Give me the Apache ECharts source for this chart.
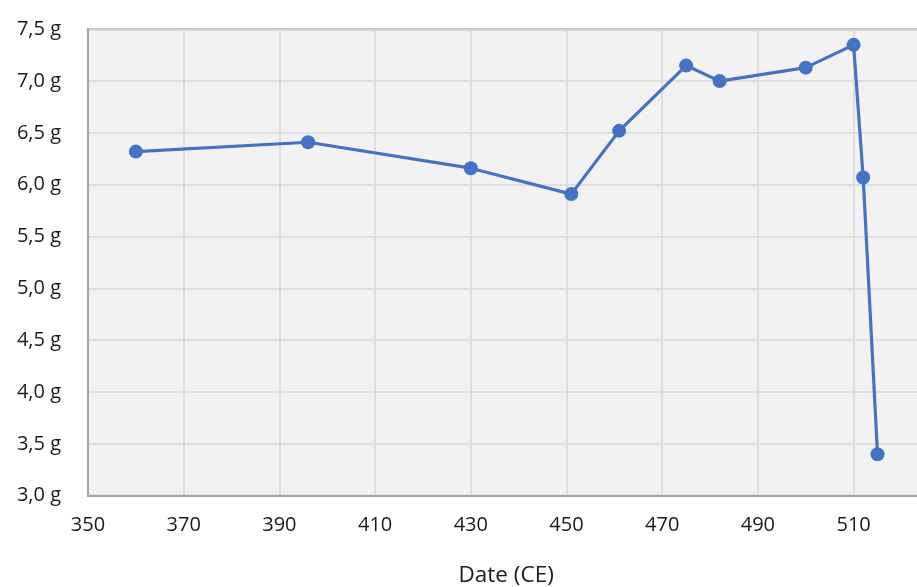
<!DOCTYPE html>
<html><head><meta charset="utf-8">
<script src="https://cdn.jsdelivr.net/npm/echarts@6/dist/echarts.min.js"></script>
<style>html,body{margin:0;padding:0;background:#fff}#c{width:917px;height:587px}</style>
</head><body><div id="c"></div>
<script>
var dates = [360, 396, 430, 451, 461, 475, 482, 500, 510, 512, 515];
var weights = [6.32, 6.41, 6.16, 5.91, 6.52, 7.15, 7.00, 7.13, 7.35, 6.07, 3.40];
var xAxisName = 'Date (CE)';

var chart = echarts.init(document.getElementById('c'));
var font = '"Open Sans", "Noto Sans", sans-serif';
chart.setOption({
  animation: false,
  grid: {left: 88, top: 29.3, width: 861.3, height: 466.4, show: true,
         outerBoundsMode: 'none', containLabel: false,
         backgroundColor: '#f2f2f2', borderColor: '#b3b3b3', borderWidth: 2},
  xAxis: {
    type: 'value', min: 350, max: 530, interval: 20,
    name: xAxisName, nameLocation: 'middle', nameGap: 68,
    nameTextStyle: {fontFamily: font, fontSize: 22.5, color: '#1a1a1a', padding: [0, 25, 0, 0]},
    axisLine: {show: true, lineStyle: {color: '#a6a6a6', width: 2}},
    axisTick: {show: false},
    axisLabel: {fontFamily: font, fontSize: 20, color: '#1a1a1a', margin: 20, showMaxLabel: false},
    splitLine: {show: true, lineStyle: {color: '#d9d9d9', width: 1.5}}
  },
  yAxis: {
    type: 'value', min: 3.0, max: 7.5, interval: 0.5,
    axisLine: {show: true, lineStyle: {color: '#a6a6a6', width: 2}},
    axisTick: {show: false},
    axisLabel: {fontFamily: font, fontSize: 20, color: '#1a1a1a', margin: 27,
      formatter: function (v) { return v.toFixed(1).replace('.', ',') + ' g'; }},
    splitLine: {show: true, lineStyle: {color: '#d9d9d9', width: 1.5}}
  },
  series: [{
    type: 'line',
    data: dates.map(function (d, i) { return [d, weights[i]]; }),
    symbol: 'circle', symbolSize: 14,
    lineStyle: {color: '#4472c4', width: 3.2},
    itemStyle: {color: '#4472c4'}
  }]
});
</script></body></html>
